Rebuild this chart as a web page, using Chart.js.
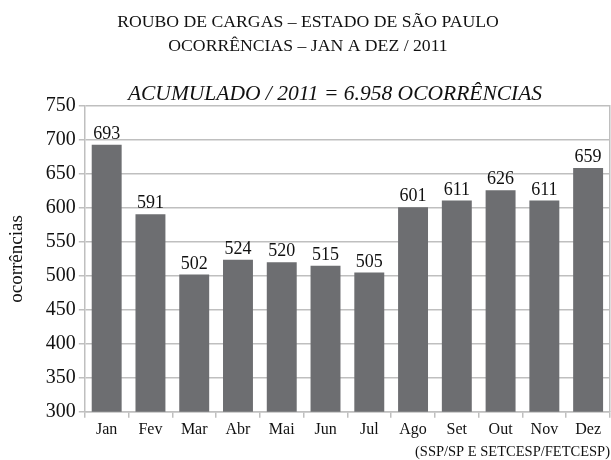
<!DOCTYPE html>
<html>
<head>
<meta charset="utf-8">
<script src="https://cdn.jsdelivr.net/npm/chart.js@4/dist/chart.umd.min.js"></script>
<style>
  html, body { margin: 0; padding: 0; background: #fff; overflow: hidden; }
  #wrap { width: 611px; height: 460px; }
</style>
</head>
<body>
<div id="wrap"><canvas id="cargoChart"></canvas></div>
<script>
const months = ['Jan', 'Fev', 'Mar', 'Abr', 'Mai', 'Jun', 'Jul', 'Ago', 'Set', 'Out', 'Nov', 'Dez'];
const occurrences = [693, 591, 502, 524, 520, 515, 505, 601, 611, 626, 611, 659];
const yMin = 300;
const yMax = 750;
const yStep = 50;
const accumulatedNote = 'ACUMULADO / 2011 = 6.958 OCORRÊNCIAS';
const sourceNote = '(SSP/SP E SETCESP/FETCESP)';

const serif = "'Liberation Serif', 'Times New Roman', serif";

// numbers above each bar
const barLabels = {
    id: 'barLabels',
    afterDatasetsDraw(chart) {
        const ctx = chart.ctx;
        const meta = chart.getDatasetMeta(0);
        ctx.save();
        ctx.font = '18px ' + serif;
        ctx.fillStyle = '#111';
        ctx.textAlign = 'center';
        ctx.textBaseline = 'alphabetic';
        meta.data.forEach((bar, i) => {
            ctx.fillText(occurrences[i], bar.x, bar.y - 6);
        });
        ctx.restore();
    }
};

// italic total line (sits a bit right of centre) and source line
const extraText = {
    id: 'extraText',
    afterDraw(chart) {
        const ctx = chart.ctx;
        ctx.save();
        ctx.fillStyle = '#111';
        ctx.font = 'italic 21.5px ' + serif;
        ctx.textAlign = 'center';
        ctx.textBaseline = 'alphabetic';
        ctx.fillText(accumulatedNote, 335, 100);
        ctx.font = '14.5px ' + serif;
        ctx.textAlign = 'right';
        ctx.textBaseline = 'middle';
        ctx.fillText(sourceNote, chart.width - 1, 452);
        ctx.restore();
    }
};

const ctx = document.getElementById('cargoChart');

new Chart(ctx, {
    type: 'bar',
    data: {
        labels: months,
        datasets: [{
            label: 'Ocorrências',
            data: occurrences,
            backgroundColor: '#6d6e71',
            borderWidth: 0,
            barPercentage: 0.855,
            categoryPercentage: 0.8,
        }]
    },
    options: {
        responsive: true,
        maintainAspectRatio: false,
        animation: false,
        layout: {
            padding: { left: 6, right: 1, top: 0, bottom: 19 }
        },
        plugins: {
            legend: { display: false },
            tooltip: { enabled: false },
            title: {
                display: true,
                text: ['ROUBO DE CARGAS – ESTADO DE SÃO PAULO', 'OCORRÊNCIAS – JAN A DEZ / 2011'],
                color: '#111',
                font: { family: serif, size: 17.7, weight: 'normal', lineHeight: 1.36 },
                padding: { top: 10, bottom: 48 }
            }
        },
        scales: {
            y: {
                min: yMin,
                max: yMax,
                ticks: {
                    stepSize: yStep,
                    color: '#111',
                    font: { family: serif, size: 20 },
                    padding: 3
                },
                grid: {
                    color: '#bfbfbf',
                    lineWidth: 1.5,
                    tickLength: 6
                },
                border: { color: '#bfbfbf', width: 1.5 },
                title: {
                    display: true,
                    text: 'ocorrências',
                    color: '#111',
                    font: { family: serif, size: 19 },
                    padding: { top: 0, bottom: 14 }
                }
            },
            x: {
                ticks: {
                    color: '#111',
                    font: { family: serif, size: 16 },
                    padding: 2
                },
                grid: {
                    drawOnChartArea: false,
                    color: '#bfbfbf',
                    lineWidth: 1.5,
                    tickLength: 6
                },
                border: { color: '#bfbfbf', width: 1.5 }
            },
            y2: {
                position: 'right',
                min: yMin,
                max: yMax,
                ticks: { display: false },
                grid: { display: false },
                border: { color: '#bfbfbf', width: 1.5 },
                afterFit(axis) { axis.width = 0; }
            }
        }
    },
    plugins: [barLabels, extraText]
});
</script>
</body>
</html>
